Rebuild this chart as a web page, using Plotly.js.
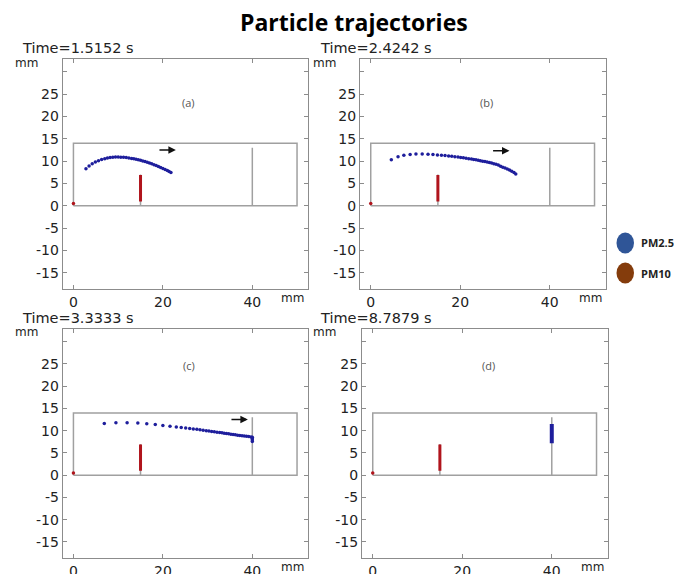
<!DOCTYPE html>
<html>
<head>
<meta charset="utf-8">
<script src="https://cdn.plot.ly/plotly-3.0.1.min.js"></script>
<style>html,body{margin:0;padding:0;background:#fff;}#chart{width:674px;height:574px;}</style>
</head>
<body>
<div id="chart"></div>
<script>
// ---------- data ----------
const panelLabels = ["(a)", "(b)", "(c)", "(d)"];
const timeLabels = ["Time=1.5152 s", "Time=2.4242 s", "Time=3.3333 s", "Time=8.7879 s"];
const xTickVals = [0, 20, 40];
const yTickVals = [-15, -10, -5, 0, 5, 10, 15, 20, 25, 30];
const yTickText = ["-15", "-10", "-5", "0", "5", "10", "15", "20", "25", ""];

// channel geometry (mm)
const boxX = [0, 50, 50, 0, 0];
const boxY = [0, 0, 14, 14, 0];
const outletWallX = [40, 40];
const outletWallY = [0, 13];
const plateX = [15, 15];
const plateY = [0, 7];

// PM10 particles (same in every panel)
const pm10PlateX = [15, 15, 15, 15, 15, 15, 15, 15, 15, 15, 15, 15, 15];
const pm10PlateY = [1.0, 1.5, 2.0, 2.5, 3.0, 3.5, 4.0, 4.5, 5.0, 5.5, 6.0, 6.5, 6.9];
const pm10InletX = [0];
const pm10InletY = [0.5];

// PM2.5 particles
const pmA_x = [2.8, 3.5, 4.2, 4.9, 5.6, 6.3, 7.0, 7.6, 8.2, 8.8, 9.4, 10.0, 10.6, 11.2, 11.8, 12.4, 13.0, 13.5, 14.0, 14.5, 15.0, 15.5, 16.0, 16.5, 17.0, 17.5, 18.0, 18.5, 19.0, 19.5, 20.0, 20.5, 21.0, 21.4, 21.8];
const pmA_y = [8.3, 8.9, 9.4, 9.8, 10.1, 10.35, 10.55, 10.7, 10.8, 10.85, 10.9, 10.9, 10.88, 10.85, 10.8, 10.72, 10.62, 10.52, 10.42, 10.3, 10.18, 10.05, 9.9, 9.75, 9.58, 9.4, 9.22, 9.02, 8.82, 8.6, 8.38, 8.15, 7.92, 7.7, 7.45];

const pmB_x = [4.6, 6.1, 7.4, 8.8, 10.1, 11.5, 12.8, 13.9, 14.9, 15.8, 16.6, 17.4, 18.1, 18.8, 19.5, 20.1, 20.7, 21.3, 21.9, 22.5, 23.0, 23.5, 24.0, 24.5, 25.0, 25.5, 26.0, 26.5, 27.0, 27.5, 28.0, 28.5, 29.0, 29.5, 30.0, 30.5, 31.0, 31.5, 32.0, 32.4];
const pmB_y = [10.3, 11.0, 11.3, 11.5, 11.6, 11.6, 11.55, 11.48, 11.4, 11.32, 11.24, 11.15, 11.07, 10.98, 10.9, 10.82, 10.74, 10.65, 10.56, 10.47, 10.38, 10.3, 10.2, 10.1, 10.0, 9.9, 9.8, 9.68, 9.56, 9.43, 9.3, 9.15, 8.85, 8.65, 8.45, 8.25, 8.0, 7.75, 7.45, 7.15];

const pmC_x = [6.9, 9.5, 12.0, 14.4, 16.4, 18.3, 20.0, 21.6, 23.0, 24.1, 25.1, 26.0, 26.8, 27.6, 28.3, 29.0, 29.7, 30.3, 30.9, 31.5, 32.1, 32.7, 33.2, 33.7, 34.2, 34.7, 35.2, 35.7, 36.2, 36.7, 37.2, 37.7, 38.2, 38.7, 39.2, 39.7, 40.0, 40.0, 40.0, 40.0];
const pmC_y = [11.6, 11.8, 11.8, 11.75, 11.55, 11.4, 11.15, 11.0, 10.85, 10.72, 10.6, 10.5, 10.4, 10.3, 10.2, 10.1, 10.0, 9.92, 9.84, 9.76, 9.68, 9.6, 9.52, 9.45, 9.38, 9.3, 9.22, 9.15, 9.08, 9.0, 8.93, 8.86, 8.8, 8.73, 8.67, 8.6, 8.55, 8.2, 7.9, 7.6];

const pmD_x = [40, 40, 40, 40, 40, 40, 40, 40, 40, 40, 40, 40];
const pmD_y = [7.2, 7.6, 8.0, 8.4, 8.8, 9.2, 9.6, 10.0, 10.4, 10.8, 11.2, 11.5];

// flow arrows (tail x, head x, y) per panel; null = none
const arrowTailX = [18.9, 27.0, 35.0, null];
const arrowHeadX = [22.9, 31.0, 39.0, null];
const arrowY = [12.5, 12.3, 12.5, null];

const pm25X = [pmA_x, pmB_x, pmC_x, pmD_x];
const pm25Y = [pmA_y, pmB_y, pmC_y, pmD_y];

// ---------- layout helpers ----------
const W = 674, H = 574;
const px = v => v / W;
const py = v => 1 - v / H;

// panel frames in pixels: [left, right, top, bottom]
const frames = [
  [62.7, 308, 59, 289],
  [360, 605.5, 59, 289],
  [62.7, 308, 329, 558],
  [362, 607.5, 329, 558]
];
const labelY = [23.1, 23.1, 24.6, 24.6];
const xRange = [-2.4, 52.45];
const yRange = [-18.6, 32.85];

const GRAY = '#a0a0a0';
const FRAME = '#8c8c8c';
const BLUE = '#1e1e9c';
const RED = '#b0141c';

const traces = [];
const layout = {
  width: W, height: H,
  margin: {l: 0, r: 0, t: 0, b: 0},
  paper_bgcolor: '#fff', plot_bgcolor: '#fff',
  showlegend: false,
  annotations: [], shapes: []
};

for (let i = 0; i < 4; i++) {
  const s = i === 0 ? '' : String(i + 1);
  const xa = 'x' + s, ya = 'y' + s;
  const f = frames[i];
  layout['xaxis' + s] = {
    domain: [px(f[0]), px(f[1])], range: xRange, anchor: ya,
    showgrid: false, zeroline: false, showline: true, mirror: 'ticks',
    linecolor: FRAME, linewidth: 1, ticks: 'inside', ticklen: 4, tickcolor: FRAME,
    tickvals: xTickVals, ticktext: xTickVals.map(String),
    tickfont: {family: 'DejaVu Sans', size: 14, color: '#222'}, fixedrange: true
  };
  layout['yaxis' + s] = {
    domain: [py(f[3]), py(f[2])], range: yRange, anchor: xa,
    showgrid: false, zeroline: false, showline: true, mirror: 'ticks',
    linecolor: FRAME, linewidth: 1, ticks: 'inside', ticklen: 4, tickcolor: FRAME,
    tickvals: yTickVals, ticktext: yTickText,
    tickfont: {family: 'DejaVu Sans', size: 14, color: '#222'}, fixedrange: true
  };

  const common = {xaxis: xa, yaxis: ya, hoverinfo: 'skip'};
  traces.push(Object.assign({x: boxX, y: boxY, mode: 'lines', line: {color: GRAY, width: 1.5}}, common));
  traces.push(Object.assign({x: outletWallX, y: outletWallY, mode: 'lines', line: {color: GRAY, width: 1.5}}, common));
  traces.push(Object.assign({x: plateX, y: plateY, mode: 'lines', line: {color: GRAY, width: 1.5}}, common));
  traces.push(Object.assign({x: pm10PlateX, y: pm10PlateY, mode: 'lines', line: {color: RED, width: 3}}, common));
  traces.push(Object.assign({x: pm10InletX, y: pm10InletY, mode: 'markers', marker: {color: RED, size: 3.5}}, common));
  if (i === 3) {
    traces.push(Object.assign({x: pm25X[i], y: pm25Y[i], mode: 'lines', line: {color: BLUE, width: 4}}, common));
  } else {
    traces.push(Object.assign({x: pm25X[i], y: pm25Y[i], mode: 'markers', marker: {color: BLUE, size: 3.5}}, common));
  }

  // panel label
  layout.annotations.push({xref: xa, yref: ya, x: 25.8, y: labelY[i], text: panelLabels[i], showarrow: false,
    font: {family: 'Open Sans', size: 11, color: '#555'}});
  // arrow
  if (arrowTailX[i] !== null) {
    layout.annotations.push({xref: xa, yref: ya, axref: xa, ayref: ya,
      x: arrowHeadX[i], y: arrowY[i], ax: arrowTailX[i], ay: arrowY[i], text: '',
      showarrow: true, arrowhead: 2, arrowsize: 1, arrowwidth: 1.5, arrowcolor: '#111'});
  }
  // time label
  const tx = (i % 2 === 0) ? 20 : 318;
  const ty = (i < 2) ? 48 : 318;
  layout.annotations.push({xref: 'paper', yref: 'paper', x: px(tx), y: py(ty), xanchor: 'left', yanchor: 'middle',
    text: timeLabels[i], showarrow: false, font: {family: 'DejaVu Sans', size: 14.5, color: '#222'}});
  // y unit
  const ux = (i % 2 === 0) ? 13 : 311;
  const uy = (i < 2) ? 63 : 332;
  layout.annotations.push({xref: 'paper', yref: 'paper', x: px(ux), y: py(uy), xanchor: 'left', yanchor: 'middle',
    text: 'mm', showarrow: false, font: {family: 'DejaVu Sans', size: 12, color: '#222'}});
  // x unit
  layout.annotations.push({xref: 'paper', yref: 'paper', x: px(f[1] - 2), y: py(f[3] + 9), xanchor: 'right', yanchor: 'middle',
    text: 'mm', showarrow: false, font: {family: 'DejaVu Sans', size: 12, color: '#222'}});
}

// main title
layout.annotations.push({xref: 'paper', yref: 'paper', x: px(354), y: py(22), xanchor: 'center', yanchor: 'middle',
  text: '<b>Particle trajectories</b>', showarrow: false, font: {family: 'Open Sans', size: 23, color: '#000'}});

// legend (circles + labels)
const legendNames = ['PM2.5', 'PM10'];
const legendColors = ['#2f5597', '#843c0c'];
const legendCy = [243, 273];
for (let k = 0; k < 2; k++) {
  layout.shapes.push({type: 'circle', xref: 'paper', yref: 'paper',
    x0: px(616.5), x1: px(634), y0: py(legendCy[k] + 10.5), y1: py(legendCy[k] - 10.5),
    fillcolor: legendColors[k], line: {width: 0}});
  layout.annotations.push({xref: 'paper', yref: 'paper', x: px(639), y: py(legendCy[k]), xanchor: 'left', yanchor: 'middle',
    text: '<b>' + legendNames[k] + '</b>', showarrow: false, font: {family: 'Open Sans', size: 11, color: '#222'}});
}

Plotly.newPlot('chart', traces, layout, {staticPlot: true, displayModeBar: false});
</script>
</body>
</html>
